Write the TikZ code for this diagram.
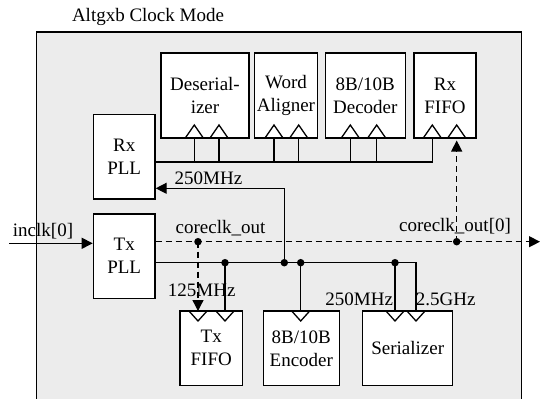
\documentclass[tikz,border=0pt]{standalone}
\usepackage{fontspec}
\setmainfont{Liberation Serif}
\usetikzlibrary{arrows.meta,calc}
% clock input marks on block edges: open triangle, base on the edge
\newcommand\clkup[1]{\draw (#1) ++(-9,0) -- ++(9,-13) -- ++(9,13);}
\newcommand\clkdown[1]{\draw (#1) ++(-9,0) -- ++(9,10) -- ++(9,-10);}
\begin{document}
\begin{tikzpicture}[x=1pt,y=-1pt,
  line width=1.3pt,
  txt/.style={font=\fontsize{19}{23}\selectfont},
  blk/.style={txt, draw, fill=white, inner sep=0pt, align=center},
  lbl/.style={txt, inner sep=0pt, anchor=base},
  clkline/.style={dash pattern=on 6pt off 4pt},
  tip/.style={-{Triangle[length=11pt,width=11pt]}},
  dot/.style={circle, fill, inner sep=0pt, minimum size=7.5pt}
]
\clip (0,0) rectangle (542,399);
\fill[white] (0,0) rectangle (542,399);

% enclosing region
\draw[fill=gray!15] (36.7,32) rectangle (521.7,430);
\node[lbl] (title) at (148,21.7) {Altgxb Clock Mode};

% receive path
\node[blk, minimum width=88pt, minimum height=85pt] (des) at (205,95.5) {Deserial-\\izer};
\node[blk, minimum width=63.4pt, minimum height=85pt] (wal) at (286,95.5) {Word\\Aligner};
\node[blk, minimum width=80pt, minimum height=85pt] (dec) at (365.3,95.5) {8B/10B\\Decoder};
\node[blk, minimum width=62pt, minimum height=85pt] (rxf) at (445,95.5) {Rx\\FIFO};
\node[blk, minimum width=61.7pt, minimum height=84.7pt] (rxpll) at (124.2,156.7) {Rx\\PLL};

% transmit path
\node[blk, minimum width=61.7pt, minimum height=84.3pt] (txpll) at (124.2,256.2) {Tx\\PLL};
\node[blk, minimum width=62.3pt, minimum height=74.7pt] (txf) at (211.2,348.3) {Tx\\FIFO};
\node[blk, minimum width=76pt, minimum height=74.7pt] (enc) at (301.3,348.3) {8B/10B\\Encoder};
\node[blk, minimum width=90pt, minimum height=74.7pt] (ser) at (407.7,348.3) {Serializer};

% clock inputs
\coordinate (d1) at (194.3,138); \coordinate (d2) at (219,138);
\coordinate (w1) at (274,138);   \coordinate (w2) at (298.7,138);
\coordinate (c1) at (350.3,138); \coordinate (c2) at (376.7,138);
\coordinate (f1) at (432.3,138); \coordinate (f2) at (456.7,138);
\coordinate (t1) at (198,311);   \coordinate (t2) at (225,311);
\coordinate (e1) at (300.7,311);
\coordinate (s1) at (395,311);   \coordinate (s2) at (416,311);
\foreach \p in {d1,d2,w1,w2,c1,c2,f1,f2} {\clkup{\p}}
\foreach \p in {t1,t2,e1,s1,s2} {\clkdown{\p}}

% bus rows
\coordinate (rxrow) at (0,162);
\coordinate (fbrow) at (0,188.3);
\coordinate (ckrow) at (0,241.7);
\coordinate (txrow) at (0,262.7);

% receive clock bus
\draw (rxpll.east |- rxrow) -| (f1);
\foreach \p in {d1,d2,w1,w2,c1,c2} {\draw (\p) -- (\p |- rxrow);}

% reference clock in
\coordinate (inclk) at (9.3,243.3);
\draw[tip] (inclk) -- (txpll.west |- inclk);
\node[lbl, anchor=base west] (inlbl) at (12.3,236) {inclk[0]};

% transmit clock bus
\draw (txpll.east |- txrow) -| (s2);
\foreach \p in {t2,e1,s1} {\draw (\p |- txrow) -- (\p); \node[dot] at (\p |- txrow) {};}
\coordinate (fb) at (284.3,262.7);
\draw[tip] (fb) |- (rxpll.east |- fbrow);
\node[dot] at (fb) {};

% core clock out
\coordinate (ckout) at (540,241.7);
\coordinate (j1) at (t1 |- ckrow);
\coordinate (j2) at (f2 |- ckrow);
\draw[clkline, tip] (txpll.east |- ckrow) -- (ckout);
\draw[clkline, tip] (j1) -- (t1);
\draw[clkline, tip, shorten >=2.5pt] (j2) -- (f2);
\node[dot] at (j1) {};
\node[dot] at (j2) {};

% frequency and signal labels
\node[lbl] (l250a) at (208.5,184) {250MHz};
\node[lbl] (lck) at (220.5,233.3) {coreclk\_out};
\node[lbl] (l125) at (201.7,296) {125MHz};
\node[lbl] (l250b) at (359.2,305.7) {250MHz};
\node[lbl] (l25g) at (445.8,305.7) {2.5GHz};
\node[lbl] (lck0) at (455,231.7) {coreclk\_out[0]};
\end{tikzpicture}
\end{document}
